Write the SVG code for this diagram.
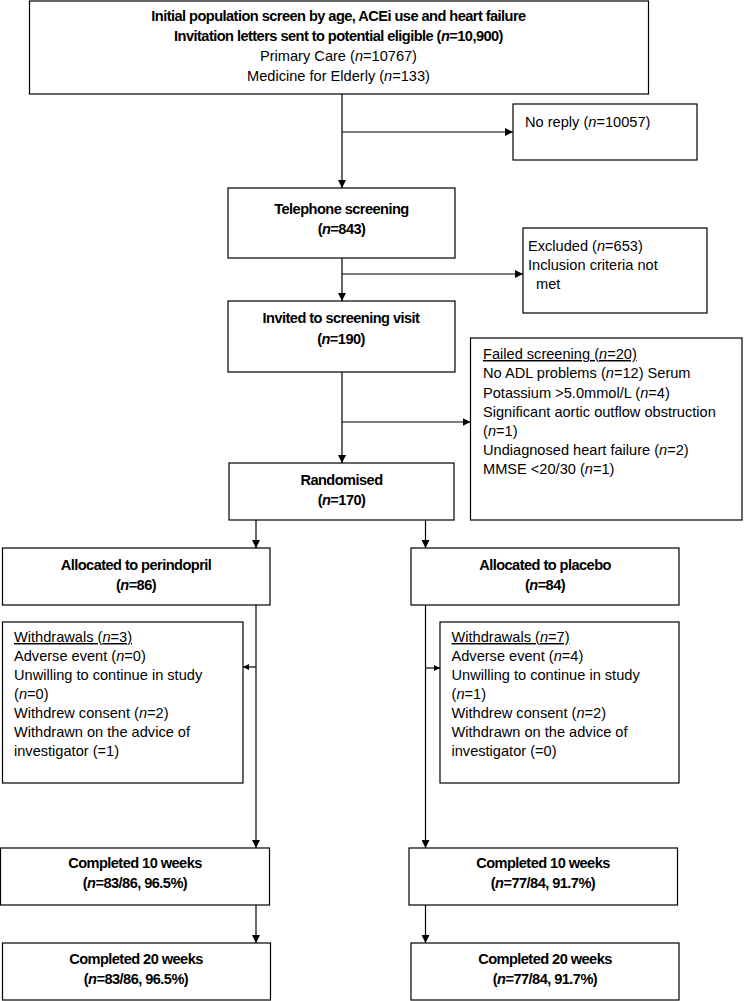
<svg xmlns="http://www.w3.org/2000/svg" width="744" height="1001" viewBox="0 0 744 1001">
<style>
  .box { fill: #ffffff; stroke: #000000; stroke-width: 1.2; }
  .ln { fill: none; stroke: #000000; stroke-width: 1.2; }
  text { font-family: "Liberation Sans", Arial, sans-serif; font-size: 14.6px; fill: #000000; }
  .c { text-anchor: middle; }
  .b { font-weight: bold; letter-spacing: -0.55px; }
  .i { font-style: italic; }
  .u { text-decoration: underline; }
</style>
<defs>
  <marker id="ah" viewBox="0 0 10 10" refX="10" refY="5" markerWidth="8" markerHeight="8" markerUnits="userSpaceOnUse" orient="auto">
    <path d="M0,0 L10,5 L0,10 Z" fill="#000000"/>
  </marker>
  <marker id="ahs" viewBox="0 0 10 10" refX="10" refY="5" markerWidth="6" markerHeight="6" markerUnits="userSpaceOnUse" orient="auto">
    <path d="M0,0 L10,5 L0,10 Z" fill="#000000"/>
  </marker>
</defs>
<rect width="744" height="1001" fill="#ffffff"/>

<g id="connectors">
  <path class="ln" d="M342,94 V188" marker-end="url(#ah)"/>
  <path class="ln" d="M342,132 H513" marker-end="url(#ah)"/>
  <path class="ln" d="M342,258 V301" marker-end="url(#ah)"/>
  <path class="ln" d="M342,274 H523" marker-end="url(#ah)"/>
  <path class="ln" d="M342,372 V463" marker-end="url(#ah)"/>
  <path class="ln" d="M342,422 H470.5" marker-end="url(#ah)"/>
  <path class="ln" d="M256,520 V548" marker-end="url(#ah)"/>
  <path class="ln" d="M425.5,520 V548" marker-end="url(#ah)"/>
  <path class="ln" d="M256,605 V848" marker-end="url(#ah)"/>
  <path class="ln" d="M425.5,605 V848" marker-end="url(#ah)"/>
  <path class="ln" d="M256,667 H243" marker-end="url(#ahs)"/>
  <path class="ln" d="M425.5,668 H440" marker-end="url(#ahs)"/>
  <path class="ln" d="M256,905 V943" marker-end="url(#ah)"/>
  <path class="ln" d="M425.5,905 V943" marker-end="url(#ah)"/>
</g>

<g id="initial">
  <rect class="box" x="29.5" y="1" width="619" height="93"/>
  <text class="c b" x="338.5" y="21">Initial population screen by age, ACEi use and heart failure</text>
  <text class="c b" x="338.5" y="40.5">Invitation letters sent to potential eligible (<tspan class="i">n</tspan>=10,900)</text>
  <text class="c" x="338.5" y="60.5">Primary Care (<tspan class="i">n</tspan>=10767)</text>
  <text class="c" x="338.5" y="80.5">Medicine for Elderly (<tspan class="i">n</tspan>=133)</text>
</g>

<g id="noreply">
  <rect class="box" x="513" y="104" width="184" height="56"/>
  <text x="525" y="127">No reply (<tspan class="i">n</tspan>=10057)</text>
</g>

<g id="telephone">
  <rect class="box" x="228" y="188" width="227" height="70"/>
  <text class="c b" x="341.5" y="214">Telephone screening</text>
  <text class="c b" x="341.5" y="233.5">(<tspan class="i">n</tspan>=843)</text>
</g>

<g id="excluded">
  <rect class="box" x="523" y="228" width="184" height="85"/>
  <text x="528" y="251">Excluded (<tspan class="i">n</tspan>=653)</text>
  <text x="528" y="270">Inclusion criteria not</text>
  <text x="536" y="289">met</text>
</g>

<g id="invited">
  <rect class="box" x="228" y="301" width="227" height="71"/>
  <text class="c b" x="341" y="323">Invited to screening visit</text>
  <text class="c b" x="341" y="343.5">(<tspan class="i">n</tspan>=190)</text>
</g>

<g id="failed">
  <rect class="box" x="470.5" y="338" width="271.5" height="182"/>
  <text class="u" x="483" y="359">Failed screening (<tspan class="i">n</tspan>=20)</text>
  <text x="483" y="378">No ADL problems (<tspan class="i">n</tspan>=12) Serum</text>
  <text x="483" y="397.5">Potassium &gt;5.0mmol/L (<tspan class="i">n</tspan>=4)</text>
  <text x="483" y="417">Significant aortic outflow obstruction</text>
  <text x="483" y="436">(<tspan class="i">n</tspan>=1)</text>
  <text x="483" y="455">Undiagnosed heart failure (<tspan class="i">n</tspan>=2)</text>
  <text x="483" y="474">MMSE &lt;20/30 (<tspan class="i">n</tspan>=1)</text>
</g>

<g id="randomised">
  <rect class="box" x="229" y="463" width="225" height="57"/>
  <text class="c b" x="341.5" y="485">Randomised</text>
  <text class="c b" x="341.5" y="504.5">(<tspan class="i">n</tspan>=170)</text>
</g>

<g id="perindopril">
  <rect class="box" x="2.5" y="548" width="267.5" height="57"/>
  <text class="c b" x="136" y="570">Allocated to perindopril</text>
  <text class="c b" x="136" y="589.5">(<tspan class="i">n</tspan>=86)</text>
</g>

<g id="placebo">
  <rect class="box" x="411" y="548" width="268" height="57"/>
  <text class="c b" x="545" y="570">Allocated to placebo</text>
  <text class="c b" x="545" y="589.5">(<tspan class="i">n</tspan>=84)</text>
</g>

<g id="withdrawals-perindopril">
  <rect class="box" x="2.5" y="622" width="240.5" height="161"/>
  <text class="u" x="14" y="642">Withdrawals (<tspan class="i">n</tspan>=3)</text>
  <text x="14" y="661">Adverse event (<tspan class="i">n</tspan>=0)</text>
  <text x="14" y="680">Unwilling to continue in study</text>
  <text x="14" y="699">(<tspan class="i">n</tspan>=0)</text>
  <text x="14" y="718">Withdrew consent (<tspan class="i">n</tspan>=2)</text>
  <text x="14" y="737">Withdrawn on the advice of</text>
  <text x="14" y="756">investigator (=1)</text>
</g>

<g id="withdrawals-placebo">
  <rect class="box" x="440" y="622" width="239" height="161"/>
  <text class="u" x="451.5" y="642">Withdrawals (<tspan class="i">n</tspan>=7)</text>
  <text x="451.5" y="661">Adverse event (<tspan class="i">n</tspan>=4)</text>
  <text x="451.5" y="680">Unwilling to continue in study</text>
  <text x="451.5" y="699">(<tspan class="i">n</tspan>=1)</text>
  <text x="451.5" y="718">Withdrew consent (<tspan class="i">n</tspan>=2)</text>
  <text x="451.5" y="737">Withdrawn on the advice of</text>
  <text x="451.5" y="756">investigator (=0)</text>
</g>

<g id="completed10-perindopril">
  <rect class="box" x="0.5" y="848" width="269" height="57"/>
  <text class="c b" x="135" y="868">Completed 10 weeks</text>
  <text class="c b" x="135" y="888">(<tspan class="i">n</tspan>=83/86, 96.5%)</text>
</g>

<g id="completed10-placebo">
  <rect class="box" x="409" y="848" width="268.5" height="57"/>
  <text class="c b" x="543" y="868">Completed 10 weeks</text>
  <text class="c b" x="543" y="888">(<tspan class="i">n</tspan>=77/84, 91.7%)</text>
</g>

<g id="completed20-perindopril">
  <rect class="box" x="2.5" y="943" width="268" height="57"/>
  <text class="c b" x="136" y="964">Completed 20 weeks</text>
  <text class="c b" x="136" y="984">(<tspan class="i">n</tspan>=83/86, 96.5%)</text>
</g>

<g id="completed20-placebo">
  <rect class="box" x="411" y="943" width="268" height="57"/>
  <text class="c b" x="545" y="964">Completed 20 weeks</text>
  <text class="c b" x="545" y="984">(<tspan class="i">n</tspan>=77/84, 91.7%)</text>
</g>
</svg>
